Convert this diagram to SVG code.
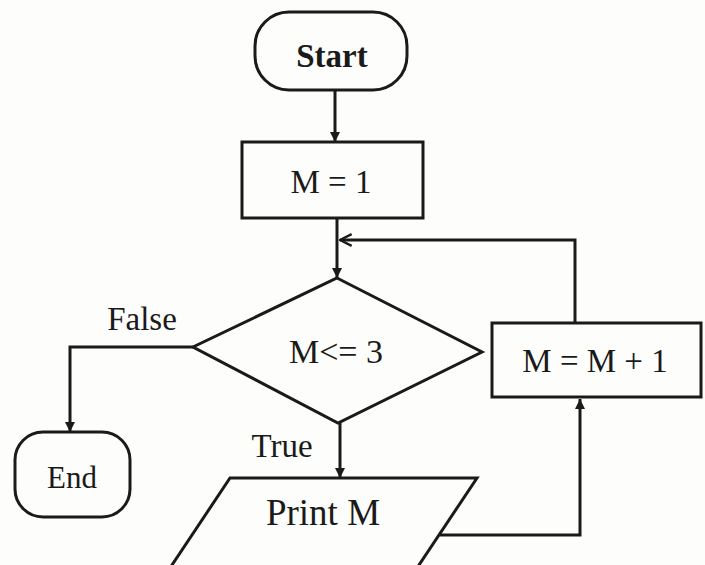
<svg xmlns="http://www.w3.org/2000/svg" width="705" height="565" viewBox="0 0 705 565">
<style>
.s{fill:none;stroke:#1a1a1a;stroke-width:3;stroke-linejoin:miter}
.t{font-family:"Liberation Serif","Times New Roman",serif;fill:#1a1a1a;text-anchor:middle}
.c{fill:none;stroke:#1a1a1a;stroke-width:3}
</style>
<defs>
<marker id="a" viewBox="0 0 10 10" refX="10" refY="5" markerWidth="10" markerHeight="10" markerUnits="userSpaceOnUse" orient="auto">
<path d="M0,0 L10,5 L0,10 z" fill="#1a1a1a"/>
</marker>
<marker id="o" viewBox="0 0 12 12" refX="11" refY="6" markerWidth="14" markerHeight="14" markerUnits="userSpaceOnUse" orient="auto">
<path d="M1,1 L11,6 L1,11" fill="none" stroke="#1a1a1a" stroke-width="2"/>
</marker>
</defs>
<rect width="705" height="565" fill="#fdfdfb"/>
<g id="connectors">
<path class="c" d="M335,90 V142" marker-end="url(#a)"/>
<path class="c" d="M337,218 V278" marker-end="url(#a)"/>
<path class="c" d="M575,323 V240 H340" marker-end="url(#o)"/>
<path class="c" d="M193,347 H70 V432" marker-end="url(#a)"/>
<path class="c" d="M340,423 V478" marker-end="url(#a)"/>
<path class="c" d="M440,535 H580 V399" marker-end="url(#a)"/>
<text class="t" x="142" y="330" font-size="33">False</text>
<text class="t" x="282" y="457" font-size="33">True</text>
</g>
<g id="start">
<rect class="s" x="255" y="12" width="152" height="78" rx="34"/>
<text class="t" x="332" y="67" font-size="33" font-weight="bold">Start</text>
</g>
<g id="init">
<rect class="s" x="242" y="142" width="181" height="76"/>
<text class="t" x="331" y="193" font-size="33">M = 1</text>
</g>
<g id="decision">
<polygon class="s" points="337,278 482,352 338,423 193,347"/>
<text class="t" x="336" y="363" font-size="34">M&lt;= 3</text>
</g>
<g id="increment">
<rect class="s" x="492" y="323" width="209" height="74"/>
<text class="t" x="595" y="372" font-size="33">M = M + 1</text>
</g>
<g id="end">
<rect class="s" x="15" y="432" width="115" height="85" rx="28"/>
<text class="t" x="72" y="488" font-size="31">End</text>
</g>
<g id="print">
<polygon class="s" points="230,478 477,478 417,568 170,568"/>
<text class="t" x="323" y="525" font-size="37">Print M</text>
</g>
</svg>
